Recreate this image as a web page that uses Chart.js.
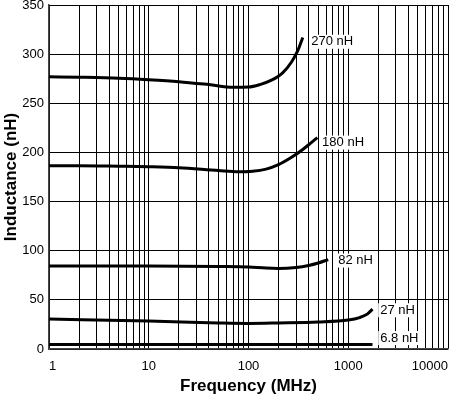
<!DOCTYPE html>
<html><head><meta charset="utf-8">
<script src="https://cdn.jsdelivr.net/npm/chart.js@4"></script>
<style>html,body{margin:0;padding:0;background:#fff;}#wrap{width:450px;height:398px;position:relative;}</style>
</head><body><div id="wrap"><canvas id="c"></canvas></div>
<script>
// ---- data ----
const seriesNames = ['270 nH', '180 nH', '82 nH', '27 nH', '6.8 nH'];

const freq270 = [1, 2, 5, 10, 20, 40, 70, 100, 130, 170, 220, 270, 310, 350];
const ind270  = [277, 276.5, 275.5, 274, 272, 269, 266.3, 266.5, 269, 273.5, 281, 292, 303, 317];

const freq180 = [1, 2, 5, 10, 20, 50, 80, 110, 150, 200, 270, 350, 420, 490];
const ind180  = [186.5, 186.5, 186, 185.5, 184.5, 181.5, 180.3, 180.8, 183, 187.5, 195, 203, 209.5, 215];

const freq82 = [1, 10, 50, 100, 150, 200, 300, 400, 500, 630];
const ind82  = [84.5, 84.5, 84, 83.5, 82.3, 82, 83, 85, 87.5, 91];

const freq27 = [1, 10, 50, 100, 200, 500, 1000, 1300, 1550, 1750];
const ind27  = [30.5, 28.5, 26.5, 26, 26.5, 27.5, 29.5, 32, 35.5, 40.5];

const freq6_8 = [1, 1750];
const ind6_8  = [4.5, 4.5];

// label anchors (data units: MHz, nH)
const labelFreq  = [425, 547, 792, 2091, 2091];
const labelValue = [312.6, 210, 90, 39.4, 11.1];

const xDecades = [1, 10, 100, 1000, 10000];
const xTickLabels = ['1', '10', '100', '1000', '10000'];
const yMin = 0, yMax = 350, yStep = 50;

// ---- build ----
const allFreq = [freq270, freq180, freq82, freq27, freq6_8];
const allInd  = [ind270, ind180, ind82, ind27, ind6_8];
const datasets = allFreq.map((fs, i) => ({
  label: seriesNames[i],
  data: fs.map((f, j) => ({x: f, y: allInd[i][j]})),
  borderColor: '#000',
  borderWidth: 3,
  pointRadius: 0,
  fill: false,
  cubicInterpolationMode: 'monotone',
  borderCapStyle: 'butt'
}));

const minorTicks = [];
xDecades.forEach((d, k) => {
  if (k === xDecades.length - 1) { minorTicks.push(d); return; }
  for (let m = 1; m <= 9; m++) minorTicks.push(d * m);
});

const FONT = "'Liberation Sans', Arial, Helvetica, sans-serif";

const labelPlugin = {
  id: 'curveLabels',
  afterDatasetsDraw(chart) {
    const ctx = chart.ctx, xs = chart.scales.x, ys = chart.scales.y;
    ctx.save();
    ctx.font = '13px ' + FONT;
    ctx.textBaseline = 'middle';
    ctx.textAlign = 'left';
    seriesNames.forEach((name, i) => {
      const px = xs.getPixelForValue(labelFreq[i]);
      const py = ys.getPixelForValue(labelValue[i]);
      const w = ctx.measureText(name).width;
      ctx.fillStyle = '#fff';
      ctx.fillRect(px - 2, py - 7, w + 4, 14);
      ctx.fillStyle = '#000';
      ctx.fillText(name, px, py);
    });
    ctx.restore();
  }
};

new Chart(document.getElementById('c'), {
  type: 'line',
  data: {datasets},
  plugins: [labelPlugin],
  options: {
    responsive: true,
    maintainAspectRatio: false,
    animation: false,
    layout: {padding: {top: 5, right: 2, bottom: 0, left: 0}},
    plugins: {legend: {display: false}, tooltip: {enabled: false}},
    scales: {
      x: {
        type: 'logarithmic',
        min: 1, max: 10000,
        afterBuildTicks: s => { s.ticks = minorTicks.map(v => ({value: v})); },
        afterFit: s => { s.height = 49; s.paddingLeft = 0; s.paddingRight = 0; },
        ticks: {
          autoSkip: false, maxRotation: 0, minRotation: 0, align: 'inner',
          padding: 10, color: '#000', font: {family: FONT, size: 13},
          callback: v => { const k = xDecades.indexOf(v); return k >= 0 ? xTickLabels[k] : ''; }
        },
        grid: {color: '#000', lineWidth: 1, drawTicks: false},
        border: {color: '#444', width: 1.5},
        title: {display: true, text: 'Frequency (MHz)', color: '#000',
                font: {family: FONT, size: 17, weight: 'bold'}, padding: {top: 0, bottom: 1}}
      },
      y: {
        min: yMin, max: yMax,
        afterFit: s => { s.width = 49; s.paddingTop = 0; s.paddingBottom = 0; },
        ticks: {stepSize: yStep, padding: 5, color: '#000', font: {family: FONT, size: 13}},
        grid: {color: '#000', lineWidth: 1, drawTicks: false},
        border: {color: '#444', width: 1.5},
        title: {display: true, text: 'Inductance (nH)', color: '#000',
                font: {family: FONT, size: 17, weight: 'bold'}, padding: {top: 1, bottom: 0}}
      }
    }
  }
});
</script>
</body></html>
